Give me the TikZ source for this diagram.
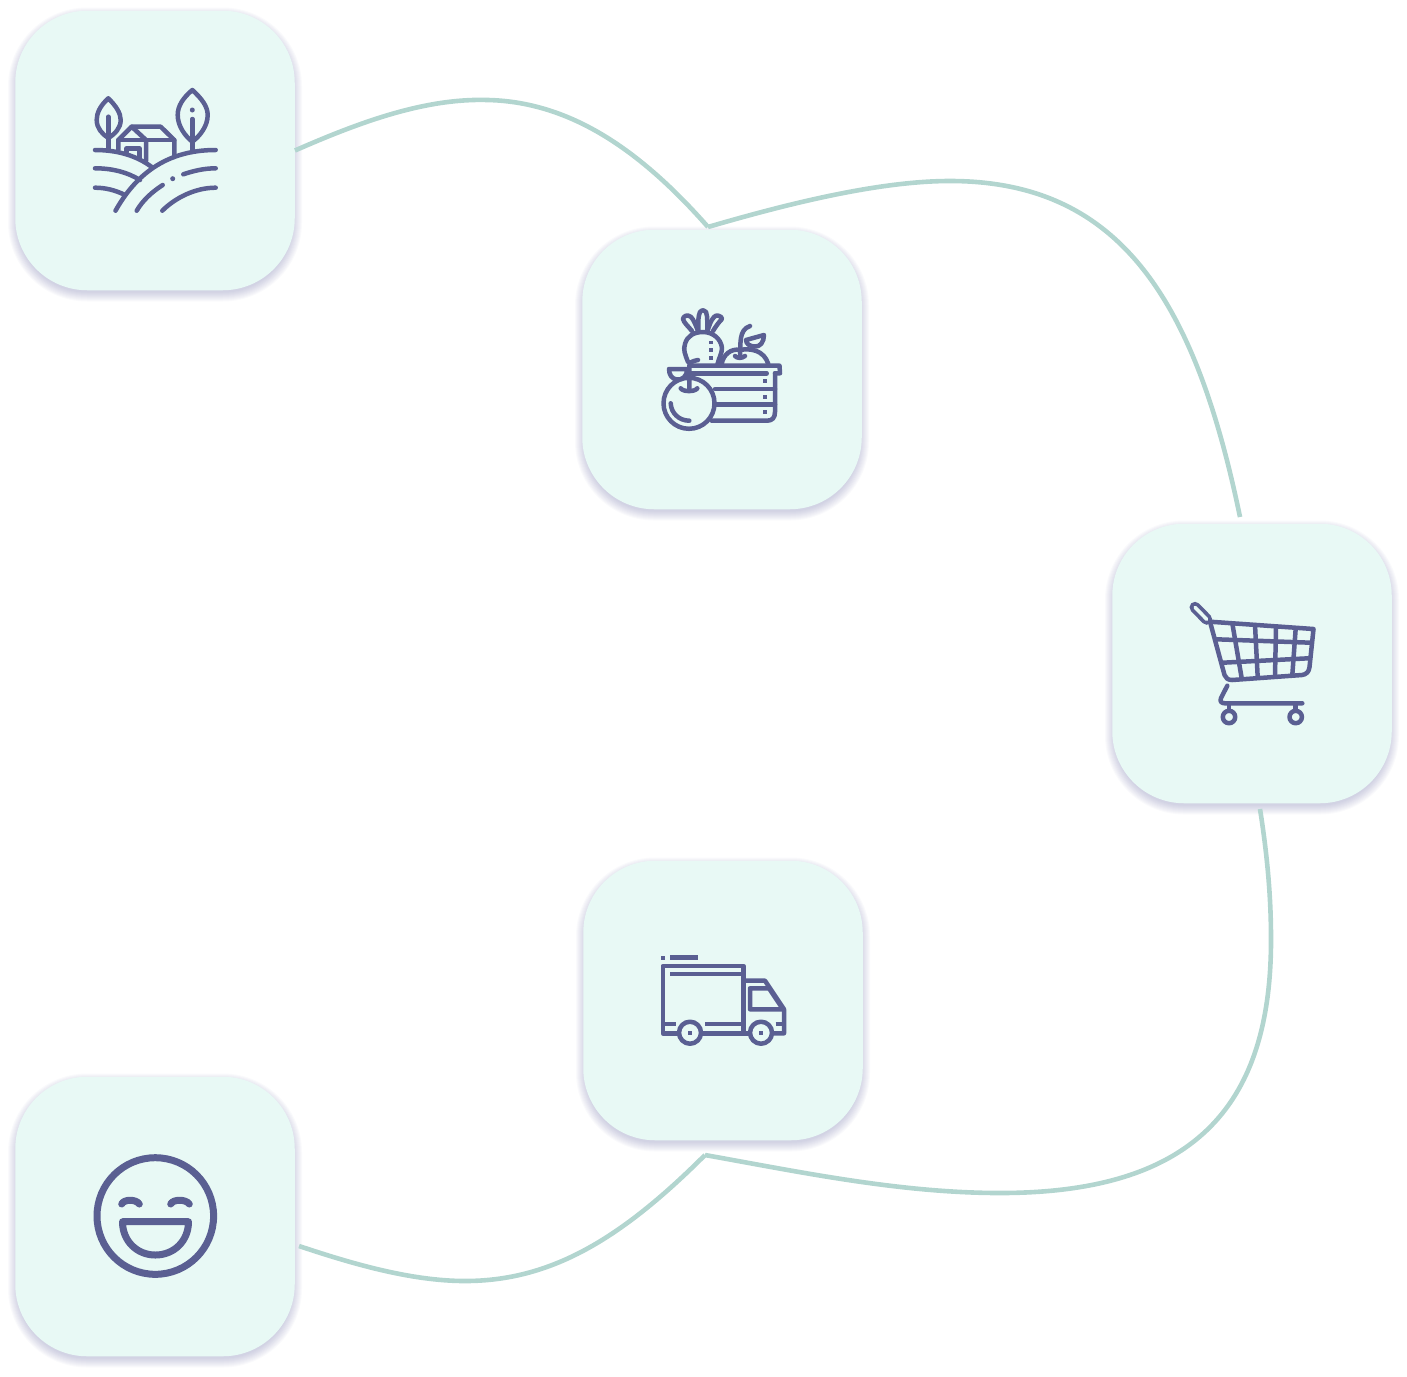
\documentclass[tikz,border=0pt]{standalone}
\usepackage{tikz}
\definecolor{cardgreen}{HTML}{E8F9F5}
\definecolor{iconblue}{HTML}{5A5F92}
\definecolor{routegreen}{HTML}{B2D5CF}
\definecolor{shadowblue}{HTML}{5A5C9A}
\tikzstyle{Card}=[minimum size=279.5pt, inner sep=0pt, fill=cardgreen, shape=rectangle, rounded corners=72pt]
\tikzstyle{route}=[line width=4.6pt, draw=routegreen]
\tikzstyle{icon}=[line width=4.5pt, draw=iconblue, line cap=round, line join=round]
\tikzstyle{smile}=[line width=7pt, draw=iconblue, line cap=round, line join=round]
\pgfdeclarelayer{nodelayer}
\pgfdeclarelayer{edgelayer}
\pgfsetlayers{nodelayer, edgelayer, main}
\begin{document}
\begin{tikzpicture}[x=1pt, y=-1pt]
	\useasboundingbox (0,0) rectangle (1407,1376);
	\begin{pgfonlayer}{nodelayer}
		% soft shadows
		\foreach \cx/\cy in {155/150.5, 722/369.5, 1252/663.5, 723/1000.5, 155/1216.5} {
			\foreach \r in {-2,...,7} {
				\fill [shadowblue, opacity=0.032, rounded corners=72pt+\r pt]
					(\cx-140-\r, \cy-140-\r+4) rectangle (\cx+140+\r, \cy+140+\r+4);
			}
		}
		\node [style=Card] (farm) at (155, 150.5) {};
		\node [style=Card] (crate) at (722, 369.5) {};
		\node [style=Card] (cart) at (1252, 663.5) {};
		\node [style=Card] (truck) at (723, 1000.5) {};
		\node [style=Card] (customer) at (155, 1216.5) {};
	\end{pgfonlayer}
	\begin{pgfonlayer}{edgelayer}
		\coordinate (crateknot) at (708, 227);
		\coordinate (cartin) at (1240, 517);
		\coordinate (cartout) at (1260, 809);
		\coordinate (truckknot) at (705, 1155);
		\coordinate (customerin) at (299, 1246);
		\draw [style=route] (farm.east) .. controls (360, 122) and (425, 98) .. (488, 100)
			.. controls (572, 102) and (642, 152) .. (crateknot);
		\draw [style=route] (crateknot) .. controls (790, 203) and (880, 181) .. (950, 181)
			.. controls (1120, 181) and (1195, 300) .. (cartin);
		\draw [style=route] (cartout) .. controls (1268, 860) and (1271, 900) .. (1271, 940)
			.. controls (1271, 1110) and (1190, 1193) .. (1000, 1193)
			.. controls (900, 1193) and (800, 1172) .. (truckknot);
		\draw [style=route] (truckknot) .. controls (620, 1240) and (550, 1281) .. (465, 1281)
			.. controls (410, 1281) and (350, 1263) .. (customerin);
	\end{pgfonlayer}

	% farm
	\draw [style=icon] (108.3,98.3) .. controls (100,106) and (96.7,113) .. (96.7,120) .. controls (96.7,128) and (102,134) .. (108.3,138) .. controls (115,134) and (120.7,128) .. (120.7,120) .. controls (120.7,113) and (116,106) .. cycle;
	\draw [style=icon] (108.3,116.7) -- (108.3,150);
	\draw [style=icon] (192.3,90) .. controls (183,98) and (177.7,106) .. (177.7,115) .. controls (177.7,126) and (185,136) .. (192.3,141.7) .. controls (200,136) and (207.7,126) .. (207.7,115) .. controls (207.7,106) and (201,98) .. cycle;
	\draw [style=icon] (192.3,119) -- (192.3,150);
	\fill [iconblue] (192.3,110) circle (2.5);
	\draw [style=icon] (95,150) .. controls (118,150) and (137,156) .. (151.7,167);
	\draw [style=icon] (115.5,210.7) .. controls (135,176) and (165,150) .. (215.7,150);
	\draw [style=icon] (95,168.3) .. controls (112,168.3) and (127,172) .. (140,180);
	\draw [style=icon] (95,187.7) .. controls (105,187.7) and (115,190) .. (125,195);
	\draw [style=icon] (183.3,174.3) .. controls (193,171) and (204,168.3) .. (215.7,168.3);
	\fill [iconblue] (172.7,178.7) circle (2.5);
	\draw [style=icon] (136.7,210.7) .. controls (143,200) and (152,192) .. (162.7,185);
	\draw [style=icon] (162.3,210.7) .. controls (175,198) and (195,187.7) .. (215.7,187.7);
	\draw [style=icon] (118.3,150) -- (118.3,140) -- (131.7,126.7) -- (160.7,126.7) -- (174.3,140) -- (174.3,157);
	\draw [style=icon] (118.3,140) -- (146,140) -- (174.3,140);
	\draw [style=icon] (131.7,126.7) -- (146,140) -- (146,161);
	\draw [style=icon] (126.7,152) -- (126.7,148.3) -- (139.3,148.3) -- (139.3,158);

	% crate
	\draw [style=icon] (692,331) .. controls (688,326) and (684,323) .. (683,319) .. controls (683,316) and (688,314) .. (691,317) .. controls (694,320) and (696,326) .. (698,331);
	\draw [style=icon] (698.5,331) .. controls (698,324) and (698,316) .. (700,312) .. controls (702,309.5) and (705,310) .. (706,312) .. controls (708,317) and (707,325) .. (707.5,331);
	\draw [style=icon] (713,331) .. controls (716,326) and (719,322) .. (722,319) .. controls (722,316) and (716,314) .. (714,317) .. controls (711,320) and (709,326) .. (707.5,331);
	\draw [style=icon] (688,362) .. controls (685,354) and (683,350) .. (685,344) .. controls (687,336) and (694,332) .. (703,332) .. controls (713,332) and (721,339) .. (722,348) .. controls (722,353) and (719,358) .. (717.5,364);
	\foreach \dy in {342.3, 350, 357.7} {
		\fill [iconblue] (709,\dy-1.8) rectangle (712.6,\dy+1.8);
	}
	\draw [style=icon] (721.7,364) .. controls (723,355) and (731,348) .. (740,350) .. controls (750,348) and (764,350) .. (768.3,364);
	\draw [style=icon] (735,356) .. controls (737,358.5) and (742,358.5) .. (745,356);
	\draw [style=icon] (740,356.7) .. controls (741,345) and (738,330) .. (750,326);
	\draw [style=icon] (746,340) -- (764,335) .. controls (764,342) and (760,347) .. (755,346.5) .. controls (750,346.5) and (746,344) .. (746,340);
	\draw [style=icon] (691.7,365.7) -- (779.5,365.7) -- (780,373.3) -- (775,373.3);
	\draw [style=icon] (691.7,373.3) -- (766.7,373.3);
	\draw [style=icon] (775,373.3) -- (775,412) .. controls (775,418) and (772,420.7) .. (767,420.7) -- (711.7,420.7);
	\draw [style=icon] (715,389) -- (775,389);
	\draw [style=icon] (715,404.3) -- (775,404.3);
	\foreach \dy in {381, 396.7, 412.3} {
		\fill [iconblue] (763.3,\dy-2) rectangle (767.3,\dy+2);
	}
	\draw [style=icon] (689,403.3) circle (25.5);
	\draw [style=icon] (680.7,388.3) .. controls (683,392) and (695,392) .. (697.3,388.3);
	\draw [style=icon] (689.3,390) -- (689.3,366) .. controls (689.3,362) and (693,361) .. (698,360);
	\draw [style=icon] (669,369) -- (687,369) .. controls (687,377) and (682,380) .. (677,379.5) .. controls (672,379) and (669,375) .. (669,369);
	\draw [style=icon] (670.7,403.3) .. controls (671,413) and (679,420.7) .. (689.3,420.7);

	% cart
	\draw [line width=11pt, draw=iconblue, line cap=round] (1195,607.3) -- (1206.7,619.3);
	\draw [line width=3.5pt, draw=cardgreen, line cap=round] (1195,607.3) -- (1206.7,619.3);
	\draw [style=icon] (1210,621.7) -- (1313.5,629) -- (1309.5,667) .. controls (1309,672) and (1306,674.5) .. (1302,675) -- (1232,680) .. controls (1228,680) and (1225.5,678) .. (1224.5,675) -- cycle;
	\draw [style=icon] (1216.7,639.3) -- (1310.7,642.7);
	\draw [style=icon] (1222.7,662.7) -- (1308.3,658.3);
	\draw [style=icon] (1232.3,623.3) -- (1241.7,678.3);
	\draw [style=icon] (1255,625) -- (1257.7,677.3);
	\draw [style=icon] (1276,626.7) -- (1275,676);
	\draw [style=icon] (1295.7,628.3) -- (1292.3,675);
	\draw [style=icon] (1227.3,685.7) -- (1221,698) .. controls (1219.5,701.5) and (1221.5,703.3) .. (1225,703.3) -- (1302.3,703.3);
	\draw [style=icon] (1229,703.3) -- (1229,710.5);
	\draw [style=icon] (1295.7,703.3) -- (1295.7,710.5);
	\draw [style=icon] (1229,717) circle (6.2);
	\draw [style=icon] (1295.7,717) circle (6.2);

	% truck
	\fill [iconblue] (661,955.7) rectangle (665,959.7);
	\draw [style=icon, line cap=butt] (670,957.7) -- (698.3,957.7);
	\draw [style=icon] (678,1033.3) -- (662.8,1033.3) -- (662.8,966) -- (743.3,966) -- (743.3,1033.3);
	\draw [style=icon, line cap=butt] (670,974) -- (743.3,974);
	\draw [style=icon, line cap=butt] (662.8,1024) -- (675.7,1024);
	\draw [style=icon, line cap=butt] (705,1024) -- (743.3,1024);
	\draw [style=icon, line cap=butt] (702,1033.3) -- (749,1033.3);
	\draw [style=icon] (743.3,980.7) -- (765,980.7) -- (784,1009.3) -- (784,1033.3) -- (773,1033.3);
	\draw [style=icon] (750,988.3) -- (769,988.3) -- (783,1009.3) -- (750,1009.3) -- cycle;
	\draw [style=icon, line cap=butt] (775.7,1024) -- (784,1024);
	\draw [style=icon] (690,1032.7) circle (11);
	\draw [style=icon] (761,1032.7) circle (11);
	\fill [iconblue] (688,1030.7) rectangle (692,1034.7);
	\fill [iconblue] (759,1030.7) rectangle (763,1034.7);

	% customer
	\draw [style=smile] (155.3,1216) circle (58.3);
	\draw [style=smile] (121.7,1204) .. controls (124,1199) and (136,1199) .. (139.3,1204);
	\draw [style=smile] (170.7,1204) .. controls (173,1199) and (186,1199) .. (189.3,1204);
	\draw [style=smile] (122.5,1221.7) -- (188.5,1221.7) .. controls (188.5,1241) and (174,1255) .. (155.3,1255) .. controls (137,1255) and (122.5,1241) .. cycle;
\end{tikzpicture}
\end{document}
